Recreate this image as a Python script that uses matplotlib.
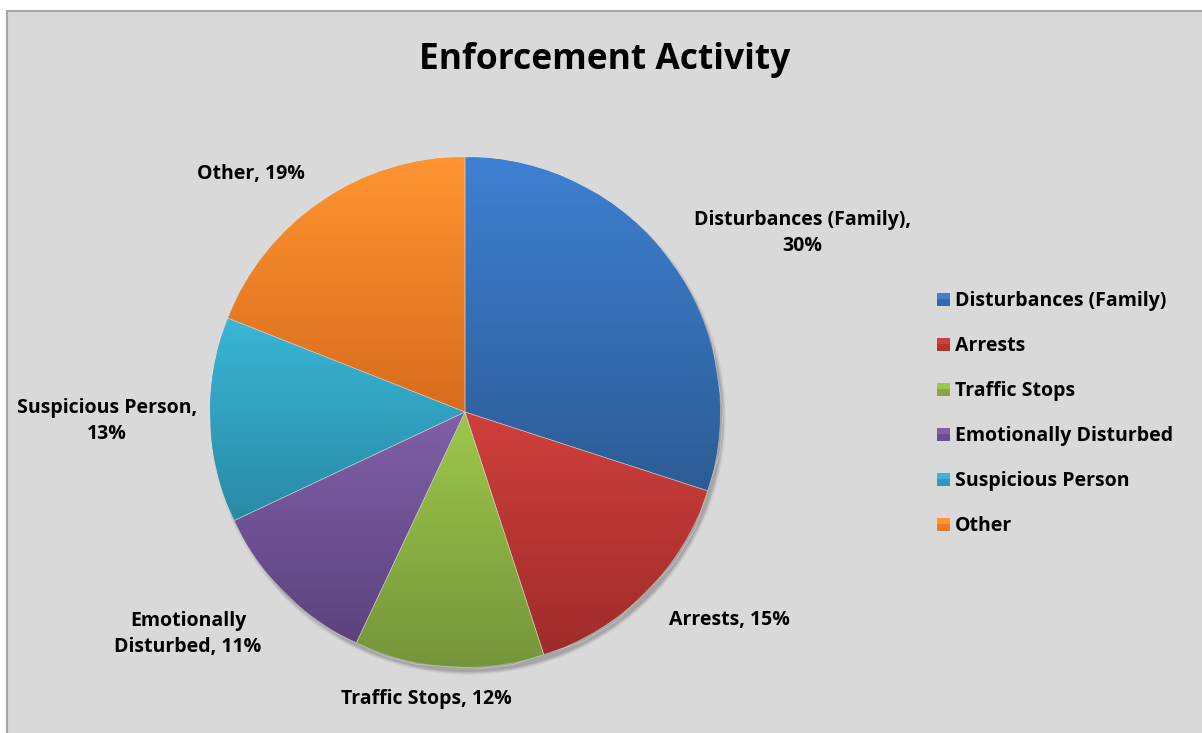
import numpy as np
import matplotlib.pyplot as plt
from matplotlib.patches import Rectangle, Circle
from matplotlib.colors import LinearSegmentedColormap

plt.rcParams['font.family'] = ['Open Sans', 'DejaVu Sans']

# Data
categories = ["Disturbances (Family)", "Arrests", "Traffic Stops",
              "Emotionally Disturbed", "Suspicious Person", "Other"]
shares = [30, 15, 12, 11, 13, 19]
label_texts = ["Disturbances (Family),\n30%", "Arrests, 15%", "Traffic Stops, 12%",
               "Emotionally\nDisturbed, 11%", "Suspicious Person,\n13%", "Other, 19%"]
top_colors = ["#3e80d2", "#d03f3c", "#9dc84b", "#8060a9", "#39b6d6", "#ff9431"]
bottom_colors = ["#2c5c95", "#9e2c2a", "#75953a", "#5c427d", "#298aa5", "#d86c1d"]

W, H = 1202, 733
fig = plt.figure(figsize=(W / 100, H / 100), dpi=100, facecolor="white")
ax = fig.add_axes([0, 0, 1, 1])

# chart area background + border
ax.add_patch(Rectangle((6.5, 10.5), W, H, facecolor="#d9d9d9",
                       edgecolor="#a6a6a6", linewidth=1.5, zorder=0))

cx, cy, r = 465, 412, 255

# soft shadow (bottom-right)
for k, a in zip(range(5, 0, -1), [0.03, 0.04, 0.05, 0.06, 0.07]):
    ax.add_patch(Circle((cx + 3, cy + 5), r - 1 + k * 0.8, facecolor="black",
                        alpha=a, linewidth=0, zorder=1))

# y is inverted, so counterclock in data = clockwise on screen
wedges, _ = ax.pie(shares, center=(cx, cy), radius=r, startangle=-90,
                   counterclock=True, frame=True,
                   wedgeprops=dict(linewidth=0))
ax.set_xlim(0, W)
ax.set_ylim(H, 0)
ax.set_aspect("equal")
ax.axis("off")

grad = np.linspace(0, 1, 256).reshape(-1, 1)
for w, c0, c1 in zip(wedges, top_colors, bottom_colors):
    w.set_zorder(2)
    w.set_facecolor(c0)
    bb = w.get_path().get_extents(w.get_patch_transform())
    cmap = LinearSegmentedColormap.from_list("g", [c0, c1])
    im = ax.imshow(grad, cmap=cmap, aspect="auto", origin="upper",
                   extent=(bb.x0, bb.x1, bb.y1, bb.y0), zorder=3,
                   interpolation="bilinear")
    im.set_clip_path(w)

# thin separators
for w in wedges:
    ax.add_patch(plt.Polygon(w.get_path().transformed(w.get_patch_transform()).vertices,
                             closed=True, fill=False, edgecolor="#dcdcdc",
                             linewidth=0.4, alpha=0.7, zorder=4))

ax.set_xlim(0, W)
ax.set_ylim(H, 0)

label_pos = [(802, 233), (729, 620), (426, 699), (188, 634), (107, 421), (251, 174)]
for txt, (x, y) in zip(label_texts, label_pos):
    ax.text(x, y, txt, ha="center", va="center", fontsize=14, fontweight="bold",
            color="black", linespacing=1.35, zorder=5)

ax.text(605, 60, "Enforcement Activity", ha="center", va="center",
        fontsize=25.5, fontweight="bold", color="black", zorder=5)

# legend
leg_y0, leg_dy = 299, 45
for i, (name, c0, c1) in enumerate(zip(categories, top_colors, bottom_colors)):
    y = leg_y0 + i * leg_dy
    ax.add_patch(Rectangle((937, y - 6.5), 13, 13, facecolor=c0,
                           edgecolor="none", zorder=5))
    ax.add_patch(Rectangle((937, y), 13, 6.5, facecolor=c1,
                           edgecolor="none", zorder=5, alpha=0.6))
    ax.text(955, y + 2, name, ha="left", va="center", fontsize=14,
            fontweight="bold", color="black", zorder=5)

fig.savefig("out.png", dpi=100, facecolor="white")
